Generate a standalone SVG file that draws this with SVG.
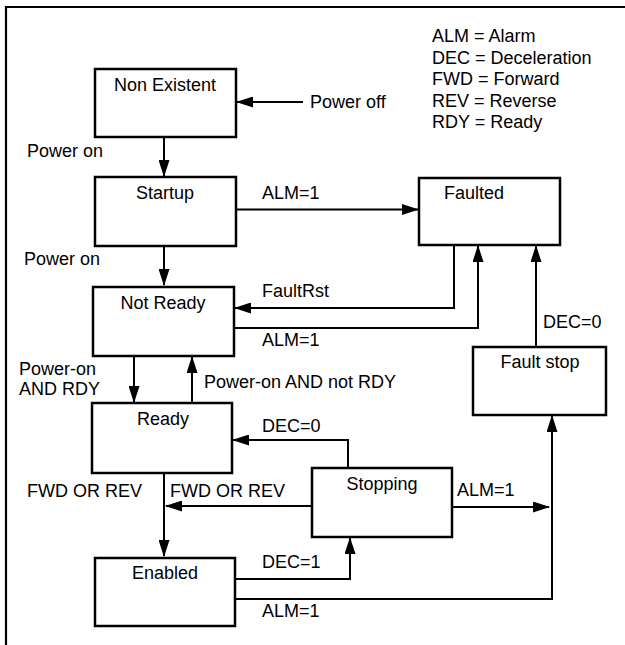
<svg xmlns="http://www.w3.org/2000/svg" width="625" height="645" viewBox="0 0 625 645">
<style>
.box{fill:#fff;stroke:#000;stroke-width:2.5}
.ln{fill:none;stroke:#000;stroke-width:2}
text{font-family:"Liberation Sans",Arial,sans-serif;font-size:18px;fill:#000}
.c{text-anchor:middle}
</style>
<defs>
<marker id="ah" markerUnits="userSpaceOnUse" markerWidth="17" markerHeight="11" refX="16" refY="5.5" orient="auto">
<path d="M0,0 L17,5.5 L0,11 z" fill="#000"/>
</marker>
</defs>
<rect width="625" height="645" fill="#fff"/>
<path d="M6,645 V7 H625" fill="none" stroke="#000" stroke-width="2.2"/>
<g id="legend">
<text x="432" y="42">ALM = Alarm</text>
<text x="432" y="63.5">DEC = Deceleration</text>
<text x="432" y="85">FWD = Forward</text>
<text x="432" y="106.5">REV = Reverse</text>
<text x="432" y="128">RDY = Ready</text>
</g>
<g id="connectors">
<path class="ln" d="M303,102 H237" marker-end="url(#ah)"/>
<path class="ln" d="M164,137 V176" marker-end="url(#ah)"/>
<path class="ln" d="M236,209.5 H418" marker-end="url(#ah)"/>
<path class="ln" d="M164,246 V285" marker-end="url(#ah)"/>
<path class="ln" d="M454,245 V308 H235" marker-end="url(#ah)"/>
<path class="ln" d="M234,328 H478 V246" marker-end="url(#ah)"/>
<path class="ln" d="M536,347 V246" marker-end="url(#ah)"/>
<path class="ln" d="M134,356 V402" marker-end="url(#ah)"/>
<path class="ln" d="M192,403 V357" marker-end="url(#ah)"/>
<path class="ln" d="M348,468 V440 H233" marker-end="url(#ah)"/>
<path class="ln" d="M312,506 H166" marker-end="url(#ah)"/>
<path class="ln" d="M164,473 V556" marker-end="url(#ah)"/>
<path class="ln" d="M452,507 H549" marker-end="url(#ah)"/>
<path class="ln" d="M235,579 H350 V538" marker-end="url(#ah)"/>
<path class="ln" d="M235,599 H552 V416" marker-end="url(#ah)"/>
<text x="310" y="108">Power off</text>
<text x="27" y="157">Power on</text>
<text x="262" y="199">ALM=1</text>
<text x="24" y="265">Power on</text>
<text x="262" y="297">FaultRst</text>
<text x="262" y="346">ALM=1</text>
<text x="543" y="328">DEC=0</text>
<text x="19" y="375">Power-on</text>
<text x="19" y="395">AND RDY</text>
<text x="204" y="388">Power-on AND not RDY</text>
<text x="262" y="432">DEC=0</text>
<text x="27" y="497">FWD OR REV</text>
<text x="170" y="497">FWD OR REV</text>
<text x="457" y="496">ALM=1</text>
<text x="262" y="568">DEC=1</text>
<text x="262" y="617">ALM=1</text>
</g>
<g id="nonexistent"><rect class="box" x="95" y="69" width="141" height="68"/><text class="c" x="165" y="91">Non Existent</text></g>
<g id="startup"><rect class="box" x="95" y="177" width="141" height="69"/><text class="c" x="165" y="199">Startup</text></g>
<g id="faulted"><rect class="box" x="419" y="178" width="141" height="67"/><text class="c" x="474" y="199">Faulted</text></g>
<g id="notready"><rect class="box" x="93" y="287" width="141" height="69"/><text class="c" x="163" y="309">Not Ready</text></g>
<g id="faultstop"><rect class="box" x="473" y="347" width="133" height="68"/><text class="c" x="540" y="368">Fault stop</text></g>
<g id="ready"><rect class="box" x="92" y="403" width="140" height="70"/><text class="c" x="163" y="425">Ready</text></g>
<g id="stopping"><rect class="box" x="312" y="468" width="140" height="69"/><text class="c" x="382" y="490">Stopping</text></g>
<g id="enabled"><rect class="box" x="95" y="558" width="140" height="68"/><text class="c" x="165" y="579">Enabled</text></g>
</svg>
